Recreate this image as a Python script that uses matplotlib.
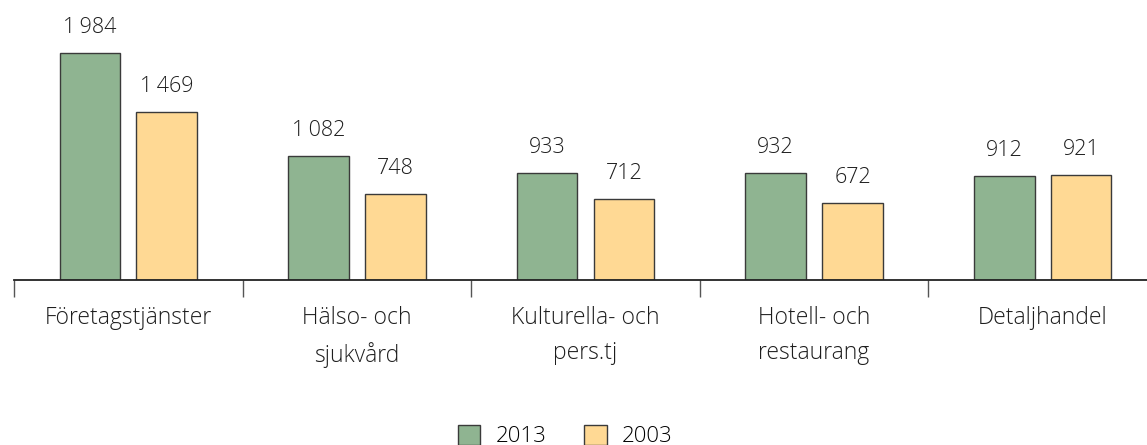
import matplotlib
matplotlib.use("Agg")
import matplotlib.pyplot as plt
import numpy as np

categories = ["Företagstjänster", "Hälso- och\nsjukvård", "Kulturella- och\npers.tj", "Hotell- och\nrestaurang", "Detaljhandel"]
series_names = ["2013", "2003"]
values_2013 = [1984, 1082, 933, 932, 912]
values_2003 = [1469, 748, 712, 672, 921]

colors = ["#8FB491", "#FFD994"]
edge = "#3a3a3a"
txt = "#1e1e1e"

plt.rcParams['font.family'] = ['Open Sans', 'DejaVu Sans']

W, H = 1147, 445
fig = plt.figure(figsize=(W / 100, H / 100), dpi=100)
left_px, right_px = 14, 1157
base_px = 280
ax = fig.add_axes([left_px / W, (H - base_px) / H, (right_px - left_px) / W, base_px / H])

x = np.arange(len(categories))
off = 0.168
bw = 0.265
px_per_unit = 227 / 1984
ymax = base_px / px_per_unit

bars = []
for vals, c, name, sgn in [(values_2013, colors[0], series_names[0], -1), (values_2003, colors[1], series_names[1], 1)]:
    b = ax.bar(x + sgn * off, vals, width=bw, color=c, edgecolor=edge, linewidth=1.0, label=name, zorder=2)
    bars.append(b)
    for xi, v in zip(x + sgn * off, vals):
        s = f"{v:,}".replace(",", "\u2009")
        ax.annotate(s, (xi, v), xytext=(0, 20), textcoords='offset pixels',
                    ha='center', va='baseline', fontsize=15.5, fontweight='light', color=txt)

ax.set_xlim(-0.5, len(categories) - 0.5)
ax.set_ylim(0, ymax)
for s in ['top', 'right', 'left']:
    ax.spines[s].set_visible(False)
ax.spines['bottom'].set_color('#222222')
ax.spines['bottom'].set_linewidth(1.3)
ax.set_yticks([])
ax.set_xticks(np.arange(-0.5, len(categories) + 0.5, 1.0))
ax.set_xticklabels([])
ax.tick_params(axis='x', which='major', direction='out', length=12, width=1.0, color='#555555')
ax.set_xticks(x, minor=True)
ax.set_xticklabels(categories, minor=True, fontsize=16.5, fontweight='light', color=txt, linespacing=1.6)
ax.tick_params(axis='x', which='minor', length=0, pad=19)
for lbl in ax.get_xticklabels(minor=True):
    lbl.set_verticalalignment('top')

fig.legend(handles=bars, labels=series_names, loc='lower center', bbox_to_anchor=(0.493, -0.05), ncol=2,
           frameon=False, handlelength=1.0, handleheight=1.0, columnspacing=1.7,
           handletextpad=0.7, prop={'weight': 'light', 'size': 16})

fig.savefig("out.png", dpi=100)
